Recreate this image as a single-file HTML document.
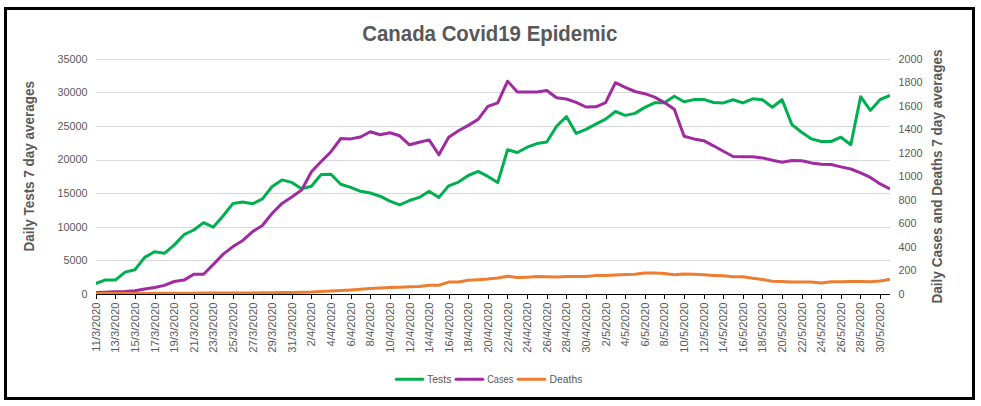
<!DOCTYPE html>
<html><head><meta charset="utf-8"><title>Canada Covid19 Epidemic</title>
<style>
html,body{margin:0;padding:0;background:#fff;}
body{width:981px;height:406px;overflow:hidden;font-family:"Liberation Sans",sans-serif;}
svg{display:block;}
text{font-family:"Liberation Sans",sans-serif;fill:#595959;}
.t{font-size:10.8px;}
.b{font-weight:bold;}
</style></head><body>
<svg width="981" height="406" viewBox="0 0 981 406">
<rect x="0" y="0" width="981" height="406" fill="#ffffff"/>
<rect x="5.5" y="8.5" width="968" height="390" fill="#ffffff" stroke="#000000" stroke-width="3"/>

<g stroke="#D9D9D9" stroke-width="1" shape-rendering="crispEdges">
<line x1="96" y1="59.5" x2="890" y2="59.5"/>
<line x1="96" y1="92.5" x2="890" y2="92.5"/>
<line x1="96" y1="126.5" x2="890" y2="126.5"/>
<line x1="96" y1="160.5" x2="890" y2="160.5"/>
<line x1="96" y1="193.5" x2="890" y2="193.5"/>
<line x1="96" y1="227.5" x2="890" y2="227.5"/>
<line x1="96" y1="260.5" x2="890" y2="260.5"/>
</g>
<text class="b" x="489.8" y="41.3" font-size="21.3" text-anchor="middle" textLength="255" lengthAdjust="spacingAndGlyphs">Canada Covid19 Epidemic</text>
<text class="t" x="87.6" y="63" text-anchor="end">35000</text>
<text class="t" x="87.6" y="96" text-anchor="end">30000</text>
<text class="t" x="87.6" y="130" text-anchor="end">25000</text>
<text class="t" x="87.6" y="163" text-anchor="end">20000</text>
<text class="t" x="87.6" y="197" text-anchor="end">15000</text>
<text class="t" x="87.6" y="231" text-anchor="end">10000</text>
<text class="t" x="87.6" y="264" text-anchor="end">5000</text>
<text class="t" x="87.6" y="298" text-anchor="end">0</text>
<text class="t" x="898.4" y="63.4">2000</text>
<text class="t" x="898.4" y="86.0">1800</text>
<text class="t" x="898.4" y="110.3">1600</text>
<text class="t" x="898.4" y="132.8">1400</text>
<text class="t" x="898.4" y="157.2">1200</text>
<text class="t" x="898.4" y="179.8">1000</text>
<text class="t" x="898.4" y="204.1">800</text>
<text class="t" x="898.4" y="226.7">600</text>
<text class="t" x="898.4" y="251.0">400</text>
<text class="t" x="898.4" y="273.5">200</text>
<text class="t" x="898.4" y="297.9">0</text>
<text class="b" font-size="14.1" text-anchor="middle" textLength="170.4" lengthAdjust="spacingAndGlyphs" transform="translate(34.2,166.3) rotate(-90)">Daily Tests 7 day averages</text>
<text class="b" font-size="14.1" text-anchor="middle" textLength="254" lengthAdjust="spacingAndGlyphs" transform="translate(942.4,176.5) rotate(-90)">Daily Cases and Deaths 7 day averages</text>
<defs><clipPath id="pc"><rect x="96" y="50" width="794" height="244.4"/></clipPath></defs>
<g fill="none" stroke-width="3" stroke-linejoin="round" stroke-linecap="butt" clip-path="url(#pc)">
<polyline stroke="#00B050" points="95.7,283.5 105.5,279.9 115.3,280.1 125.1,272.1 134.9,269.7 144.7,257.4 154.5,251.7 164.3,253.3 174.1,245.1 184.0,234.7 193.8,230.0 203.6,222.6 213.4,227.1 223.2,215.7 233.0,203.4 242.8,202.0 252.6,203.8 262.4,198.9 272.2,186.5 282.0,179.9 291.8,182.4 301.6,188.7 311.4,186.3 321.2,174.4 331.0,174.2 340.8,184.3 350.7,187.4 360.5,191.3 370.3,193.0 380.1,196.2 389.9,201.2 399.7,204.8 409.5,200.5 419.3,197.4 429.1,191.3 438.9,197.4 448.7,185.8 458.5,182.1 468.3,175.5 478.1,171.4 487.9,176.4 497.7,182.6 507.6,149.8 517.4,152.5 527.2,147.2 537.0,143.6 546.8,142.0 556.6,126.2 566.4,116.6 576.2,133.4 586.0,129.3 595.8,124.2 605.6,119.1 615.4,111.5 625.2,115.4 635.0,113.4 644.8,107.4 654.6,102.8 664.4,102.7 674.3,96.3 684.1,101.7 693.9,99.6 703.7,99.4 713.5,102.5 723.3,102.9 733.1,99.8 742.9,102.9 752.7,98.8 762.5,99.8 772.3,107.2 782.1,99.7 791.9,124.6 801.7,132.2 811.5,138.9 821.3,141.5 831.1,141.5 841.0,137.2 850.8,144.7 860.6,96.7 870.4,110.4 880.2,99.5 890.0,95.4"/>
<polyline stroke="#A02BA0" points="95.7,292.4 105.5,292.2 115.3,291.8 125.1,291.5 134.9,290.8 144.7,289.1 154.5,287.5 164.3,285.4 174.1,281.5 184.0,280.1 193.8,274.2 203.6,274.2 213.4,264.4 223.2,254.1 233.0,246.6 242.8,240.4 252.6,231.6 262.4,225.5 272.2,213.3 282.0,203.4 291.8,196.9 301.6,190.1 311.4,171.7 321.2,161.5 331.0,151.7 340.8,138.5 350.7,138.9 360.5,137.0 370.3,131.7 380.1,134.8 389.9,132.7 399.7,135.8 409.5,144.8 419.3,142.3 429.1,139.9 438.9,154.8 448.7,137.2 458.5,130.7 468.3,125.4 478.1,119.4 487.9,106.4 497.7,102.8 507.6,81.2 517.4,91.9 527.2,92.1 537.0,92.1 546.8,90.5 556.6,97.8 566.4,99.0 576.2,102.3 586.0,107.0 595.8,106.8 605.6,102.7 615.4,82.7 625.2,87.4 635.0,91.5 644.8,93.7 654.6,97.1 664.4,102.6 674.3,109.3 684.1,136.2 693.9,138.9 703.7,140.7 713.5,145.8 723.3,151.2 733.1,156.5 742.9,156.7 752.7,156.8 762.5,157.9 772.3,160.3 782.1,162.3 791.9,160.6 801.7,160.7 811.5,162.9 821.3,164.3 831.1,164.5 841.0,166.9 850.8,169.0 860.6,172.9 870.4,177.4 880.2,183.9 890.0,189.0"/>
<polyline stroke="#ED7D31" points="95.7,293.4 105.5,293.4 115.3,293.4 125.1,293.4 134.9,293.4 144.7,293.4 154.5,293.3 164.3,293.3 174.1,293.3 184.0,293.2 193.8,293.2 203.6,293.1 213.4,293.1 223.2,293.0 233.0,293.0 242.8,292.9 252.6,292.9 262.4,292.8 272.2,292.7 282.0,292.6 291.8,292.5 301.6,292.3 311.4,292.1 321.2,291.6 331.0,291.1 340.8,290.5 350.7,289.9 360.5,289.2 370.3,288.6 380.1,288.1 389.9,287.6 399.7,287.2 409.5,286.8 419.3,286.4 429.1,285.2 438.9,285.2 448.7,282.1 458.5,281.9 468.3,280.3 478.1,279.8 487.9,279.1 497.7,278.0 507.6,276.2 517.4,277.6 527.2,277.2 537.0,276.6 546.8,276.8 556.6,277.0 566.4,276.4 576.2,276.4 586.0,276.4 595.8,275.6 605.6,275.4 615.4,275.0 625.2,274.6 635.0,274.2 644.8,273.1 654.6,273.1 664.4,273.6 674.3,274.7 684.1,273.9 693.9,274.2 703.7,274.8 713.5,275.4 723.3,275.8 733.1,276.8 742.9,276.8 752.7,278.2 762.5,279.5 772.3,281.3 782.1,281.5 791.9,282.1 801.7,282.1 811.5,282.1 821.3,283.0 831.1,281.8 841.0,281.7 850.8,281.5 860.6,281.5 870.4,281.7 880.2,281.1 890.0,279.3"/>
</g>
<g stroke="#000000" stroke-width="1" shape-rendering="crispEdges">
<line x1="96" y1="294.5" x2="890" y2="294.5"/>
<line x1="96.5" y1="294.5" x2="96.5" y2="298.8"/>
<line x1="115.5" y1="294.5" x2="115.5" y2="298.8"/>
<line x1="135.5" y1="294.5" x2="135.5" y2="298.8"/>
<line x1="155.5" y1="294.5" x2="155.5" y2="298.8"/>
<line x1="174.5" y1="294.5" x2="174.5" y2="298.8"/>
<line x1="194.5" y1="294.5" x2="194.5" y2="298.8"/>
<line x1="213.5" y1="294.5" x2="213.5" y2="298.8"/>
<line x1="233.5" y1="294.5" x2="233.5" y2="298.8"/>
<line x1="253.5" y1="294.5" x2="253.5" y2="298.8"/>
<line x1="272.5" y1="294.5" x2="272.5" y2="298.8"/>
<line x1="292.5" y1="294.5" x2="292.5" y2="298.8"/>
<line x1="311.5" y1="294.5" x2="311.5" y2="298.8"/>
<line x1="331.5" y1="294.5" x2="331.5" y2="298.8"/>
<line x1="351.5" y1="294.5" x2="351.5" y2="298.8"/>
<line x1="370.5" y1="294.5" x2="370.5" y2="298.8"/>
<line x1="390.5" y1="294.5" x2="390.5" y2="298.8"/>
<line x1="409.5" y1="294.5" x2="409.5" y2="298.8"/>
<line x1="429.5" y1="294.5" x2="429.5" y2="298.8"/>
<line x1="449.5" y1="294.5" x2="449.5" y2="298.8"/>
<line x1="468.5" y1="294.5" x2="468.5" y2="298.8"/>
<line x1="488.5" y1="294.5" x2="488.5" y2="298.8"/>
<line x1="507.5" y1="294.5" x2="507.5" y2="298.8"/>
<line x1="527.5" y1="294.5" x2="527.5" y2="298.8"/>
<line x1="547.5" y1="294.5" x2="547.5" y2="298.8"/>
<line x1="566.5" y1="294.5" x2="566.5" y2="298.8"/>
<line x1="586.5" y1="294.5" x2="586.5" y2="298.8"/>
<line x1="606.5" y1="294.5" x2="606.5" y2="298.8"/>
<line x1="625.5" y1="294.5" x2="625.5" y2="298.8"/>
<line x1="645.5" y1="294.5" x2="645.5" y2="298.8"/>
<line x1="664.5" y1="294.5" x2="664.5" y2="298.8"/>
<line x1="684.5" y1="294.5" x2="684.5" y2="298.8"/>
<line x1="704.5" y1="294.5" x2="704.5" y2="298.8"/>
<line x1="723.5" y1="294.5" x2="723.5" y2="298.8"/>
<line x1="743.5" y1="294.5" x2="743.5" y2="298.8"/>
<line x1="762.5" y1="294.5" x2="762.5" y2="298.8"/>
<line x1="782.5" y1="294.5" x2="782.5" y2="298.8"/>
<line x1="802.5" y1="294.5" x2="802.5" y2="298.8"/>
<line x1="821.5" y1="294.5" x2="821.5" y2="298.8"/>
<line x1="841.5" y1="294.5" x2="841.5" y2="298.8"/>
<line x1="860.5" y1="294.5" x2="860.5" y2="298.8"/>
<line x1="880.5" y1="294.5" x2="880.5" y2="298.8"/>
</g>
<text class="t" text-anchor="end" transform="translate(99.8,302.6) rotate(-90) scale(1.043,1)">11/3/2020</text>
<text class="t" text-anchor="end" transform="translate(119.4,302.6) rotate(-90) scale(1.043,1)">13/3/2020</text>
<text class="t" text-anchor="end" transform="translate(139.0,302.6) rotate(-90) scale(1.043,1)">15/3/2020</text>
<text class="t" text-anchor="end" transform="translate(158.6,302.6) rotate(-90) scale(1.043,1)">17/3/2020</text>
<text class="t" text-anchor="end" transform="translate(178.2,302.6) rotate(-90) scale(1.043,1)">19/3/2020</text>
<text class="t" text-anchor="end" transform="translate(197.8,302.6) rotate(-90) scale(1.043,1)">21/3/2020</text>
<text class="t" text-anchor="end" transform="translate(217.4,302.6) rotate(-90) scale(1.043,1)">23/3/2020</text>
<text class="t" text-anchor="end" transform="translate(237.0,302.6) rotate(-90) scale(1.043,1)">25/3/2020</text>
<text class="t" text-anchor="end" transform="translate(256.6,302.6) rotate(-90) scale(1.043,1)">27/3/2020</text>
<text class="t" text-anchor="end" transform="translate(276.2,302.6) rotate(-90) scale(1.043,1)">29/3/2020</text>
<text class="t" text-anchor="end" transform="translate(295.8,302.6) rotate(-90) scale(1.043,1)">31/3/2020</text>
<text class="t" text-anchor="end" transform="translate(315.4,302.6) rotate(-90) scale(1.043,1)">2/4/2020</text>
<text class="t" text-anchor="end" transform="translate(335.0,302.6) rotate(-90) scale(1.043,1)">4/4/2020</text>
<text class="t" text-anchor="end" transform="translate(354.7,302.6) rotate(-90) scale(1.043,1)">6/4/2020</text>
<text class="t" text-anchor="end" transform="translate(374.3,302.6) rotate(-90) scale(1.043,1)">8/4/2020</text>
<text class="t" text-anchor="end" transform="translate(393.9,302.6) rotate(-90) scale(1.043,1)">10/4/2020</text>
<text class="t" text-anchor="end" transform="translate(413.5,302.6) rotate(-90) scale(1.043,1)">12/4/2020</text>
<text class="t" text-anchor="end" transform="translate(433.1,302.6) rotate(-90) scale(1.043,1)">14/4/2020</text>
<text class="t" text-anchor="end" transform="translate(452.7,302.6) rotate(-90) scale(1.043,1)">16/4/2020</text>
<text class="t" text-anchor="end" transform="translate(472.3,302.6) rotate(-90) scale(1.043,1)">18/4/2020</text>
<text class="t" text-anchor="end" transform="translate(491.9,302.6) rotate(-90) scale(1.043,1)">20/4/2020</text>
<text class="t" text-anchor="end" transform="translate(511.5,302.6) rotate(-90) scale(1.043,1)">22/4/2020</text>
<text class="t" text-anchor="end" transform="translate(531.1,302.6) rotate(-90) scale(1.043,1)">24/4/2020</text>
<text class="t" text-anchor="end" transform="translate(550.7,302.6) rotate(-90) scale(1.043,1)">26/4/2020</text>
<text class="t" text-anchor="end" transform="translate(570.3,302.6) rotate(-90) scale(1.043,1)">28/4/2020</text>
<text class="t" text-anchor="end" transform="translate(589.9,302.6) rotate(-90) scale(1.043,1)">30/4/2020</text>
<text class="t" text-anchor="end" transform="translate(609.5,302.6) rotate(-90) scale(1.043,1)">2/5/2020</text>
<text class="t" text-anchor="end" transform="translate(629.1,302.6) rotate(-90) scale(1.043,1)">4/5/2020</text>
<text class="t" text-anchor="end" transform="translate(648.7,302.6) rotate(-90) scale(1.043,1)">6/5/2020</text>
<text class="t" text-anchor="end" transform="translate(668.3,302.6) rotate(-90) scale(1.043,1)">8/5/2020</text>
<text class="t" text-anchor="end" transform="translate(687.9,302.6) rotate(-90) scale(1.043,1)">10/5/2020</text>
<text class="t" text-anchor="end" transform="translate(707.5,302.6) rotate(-90) scale(1.043,1)">12/5/2020</text>
<text class="t" text-anchor="end" transform="translate(727.1,302.6) rotate(-90) scale(1.043,1)">14/5/2020</text>
<text class="t" text-anchor="end" transform="translate(746.7,302.6) rotate(-90) scale(1.043,1)">16/5/2020</text>
<text class="t" text-anchor="end" transform="translate(766.3,302.6) rotate(-90) scale(1.043,1)">18/5/2020</text>
<text class="t" text-anchor="end" transform="translate(785.9,302.6) rotate(-90) scale(1.043,1)">20/5/2020</text>
<text class="t" text-anchor="end" transform="translate(805.5,302.6) rotate(-90) scale(1.043,1)">22/5/2020</text>
<text class="t" text-anchor="end" transform="translate(825.1,302.6) rotate(-90) scale(1.043,1)">24/5/2020</text>
<text class="t" text-anchor="end" transform="translate(844.8,302.6) rotate(-90) scale(1.043,1)">26/5/2020</text>
<text class="t" text-anchor="end" transform="translate(864.4,302.6) rotate(-90) scale(1.043,1)">28/5/2020</text>
<text class="t" text-anchor="end" transform="translate(884.0,302.6) rotate(-90) scale(1.043,1)">30/5/2020</text>
<g fill="none" stroke-width="3" stroke-linecap="round">
<line x1="396.4" y1="379.3" x2="422.8" y2="379.3" stroke="#00B050"/>
<line x1="456.0" y1="379.3" x2="482.7" y2="379.3" stroke="#A02BA0"/>
<line x1="518.2" y1="379.3" x2="544.7" y2="379.3" stroke="#ED7D31"/>
</g>
<text class="t" x="426.9" y="383.1" textLength="24.5" lengthAdjust="spacingAndGlyphs">Tests</text>
<text class="t" x="487.2" y="383.1" textLength="26.1" lengthAdjust="spacingAndGlyphs">Cases</text>
<text class="t" x="549.6" y="383.1" textLength="32.7" lengthAdjust="spacingAndGlyphs">Deaths</text>
</svg>
</body></html>
